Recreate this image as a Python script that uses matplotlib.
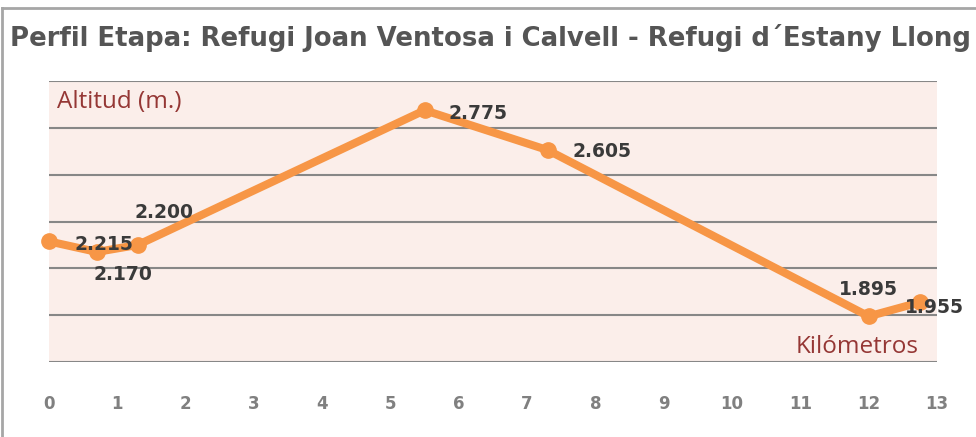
import matplotlib
matplotlib.use("Agg")
import matplotlib.pyplot as plt
from matplotlib.lines import Line2D

# Data
km = [0, 0.7, 1.3, 5.5, 7.3, 12.0, 12.75]
altitude = [2215, 2170, 2200, 2775, 2605, 1895, 1955]
labels = ["2.215", "2.170", "2.200", "2.775", "2.605", "1.895", "1.955"]
xticks = list(range(0, 14))
title = "Perfil Etapa: Refugi Joan Ventosa i Calvell - Refugi d\u00b4Estany Llong"

# label offsets in pixels (dx, dy)
offsets = [(55, -3), (26, -23), (26, 32), (53, -3), (54, -1), (0, 27), (15, -5)]

fig = plt.figure(figsize=(9.76, 4.37), dpi=100)
ax = fig.add_axes([49/976, 1 - 362/437, (937-49)/976, (362-81)/437])
ax.set_facecolor("#FBEEEA")
ax.set_xlim(0, 13)
ax.set_ylim(1700, 2900)
ax.set_yticks(range(1700, 2901, 200))
ax.yaxis.grid(True, color="#878787", linewidth=1.5)
ax.set_axisbelow(True)
for s in ax.spines.values():
    s.set_visible(False)
ax.tick_params(axis="y", left=False, labelleft=False)
ax.set_xticks(xticks)
ax.set_xticklabels([str(t) for t in xticks], fontsize=12, fontweight="bold", color="#808080")
ax.tick_params(axis="x", length=0, pad=24)

ax.plot(km, altitude, color="#F79646", linewidth=5.8, marker="o", markersize=11,
        solid_capstyle="round", clip_on=False, zorder=3)

for x, y, lab, (dx, dy) in zip(km, altitude, labels, offsets):
    ax.annotate(lab, (x, y), xytext=(dx, dy), textcoords="offset pixels",
                ha="center", va="center", fontsize=13.5, fontweight="bold",
                color="#3a3a3a", zorder=4, annotation_clip=False)

fig.text(57/976, 1 - 102/437, "Altitud (m.)", fontsize=17.5,
         color="#953735", ha="left", va="center", family="Open Sans")
fig.text(919/976, 1 - 347/437, "Kil\u00f3metros", fontsize=17.5,
         color="#953735", ha="right", va="center", family="Open Sans")

fig.text(10/976, 1 - 38/437, title, fontsize=18.7, fontweight="bold", color="#555555",
         ha="left", va="center")

# outer frame
fig.add_artist(Line2D([2/976, 2/976], [0, 1 - 8/437], transform=fig.transFigure,
                      color="#a6a6a6", linewidth=2))
fig.add_artist(Line2D([2/976, 1], [1 - 8/437, 1 - 8/437], transform=fig.transFigure,
                      color="#a6a6a6", linewidth=2))

fig.savefig("out.png", dpi=100)
